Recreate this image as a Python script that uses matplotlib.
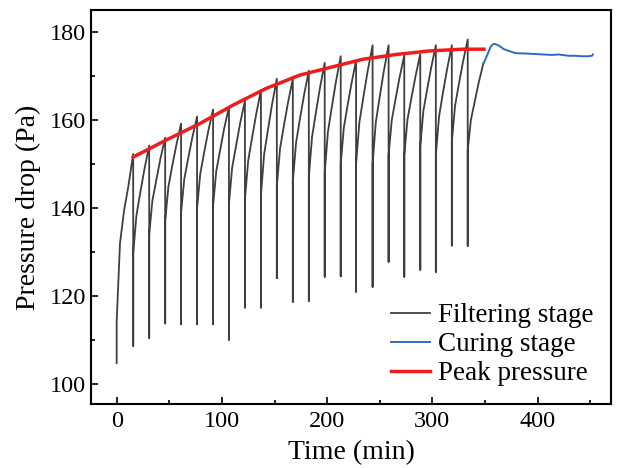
import matplotlib
matplotlib.use("Agg")
import matplotlib.pyplot as plt
from matplotlib.ticker import MultipleLocator

plt.rcParams['font.family'] = ['Liberation Serif', 'DejaVu Serif']

# ---------------- data ----------------
start_t = 0.0
start_min = 104.8
# times (min) of the pressure drops (pulse cleaning) during filtering
drop_t = [15.7, 30.9, 46.1, 61.2, 76.4, 91.6, 106.7, 121.9, 137.1, 152.2, 167.4,
          182.6, 197.7, 212.9, 227.5, 243.2, 258.4, 273.3, 288.5, 303.3, 318.5, 333.6]
filter_end_t = 348.5
# pressure right after restart of each cycle
rise_start = [114.2, 129.7, 134.0, 137.0, 139.0, 140.0, 140.5, 141.0, 142.0, 143.0, 145.0, 146.0,
              147.0, 148.0, 150.0, 150.0, 150.0, 152.0, 152.0, 154.0, 152.0, 155.0, 153.0]
rise_q1 = [132.0, 138.3, 141.7, 144.8, 146.6, 147.8, 148.4, 149.2, 150.7, 152.2, 153.5, 154.8,
           156.1, 157.3, 158.2, 159.5, 159.5, 159.9, 160.1, 162.1, 160.8, 163.2, 160.0]
rise_q2 = [139.5, 143.7, 146.5, 149.7, 151.4, 152.8, 153.3, 154.3, 156.1, 158.0, 158.9, 160.4,
           161.8, 163.1, 163.4, 165.4, 165.4, 164.9, 165.1, 167.1, 166.3, 168.3, 164.3]
rise_q3 = [144.8, 148.8, 151.2, 154.3, 156.0, 157.5, 158.1, 159.3, 161.3, 163.6, 164.0, 165.7,
           167.3, 168.7, 168.3, 171.1, 171.1, 169.7, 169.9, 171.9, 171.5, 173.2, 168.5]
# pressure at the end of each cycle (just before the drop)
cycle_peak = [152.3, 154.2, 156.0, 159.2, 160.8, 162.4, 163.0, 164.4, 166.8, 169.4, 169.4, 171.2,
              173.0, 174.5, 173.5, 177.0, 177.0, 174.7, 175.0, 177.0, 177.0, 178.3, 172.9]
# lowest pressure reached at each drop
drop_min = [108.7, 110.5, 113.8, 113.6, 113.6, 113.6, 110.1, 117.4, 117.4, 124.1, 118.7,
            118.9, 124.4, 124.5, 121.0, 122.1, 127.8, 124.4, 126.0, 125.5, 131.5, 131.4]

# curing stage
cure_t = [348.5, 349.5, 352.2, 355.4, 357.5, 359.5, 363.3, 368.0, 372.7, 379.0, 390.0, 398.0,
          405.0, 413.8, 420.0, 429.7, 436.0, 442.3, 448.0, 451.7, 452.5]
cure_p = [172.9, 173.3, 174.8, 176.7, 177.2, 177.3, 176.9, 176.1, 175.7, 175.2, 175.1, 175.0,
          174.9, 174.8, 174.9, 174.6, 174.6, 174.5, 174.5, 174.6, 174.9]

# peak pressure curve
peak_t = [15.7, 47.4, 79.0, 110.6, 142.2, 173.8, 205.3, 233.7, 265.4, 297.0, 328.5, 349.0]
peak_p = [151.6, 155.5, 159.2, 163.4, 167.2, 170.2, 172.1, 173.8, 174.9, 175.7, 176.1, 176.1]

x_ticks = [0, 100, 200, 300, 400]
y_ticks = [100, 120, 140, 160, 180]

# ---------------- build filtering path ----------------
fracs = [0.0, 0.2, 0.45, 0.7, 1.0]
starts = [start_t] + drop_t
ends = drop_t + [filter_end_t]
fx, fy = [start_t], [start_min]
for c in range(len(starts)):
    t0, t1 = starts[c], ends[c]
    vals = [rise_start[c], rise_q1[c], rise_q2[c], rise_q3[c], cycle_peak[c]]
    for f, v in zip(fracs, vals):
        fx.append(t0 + f * (t1 - t0))
        fy.append(v)
    if c < len(drop_min):
        fx.append(t1)
        fy.append(drop_min[c])

# ---------------- plot ----------------
fig = plt.figure(figsize=(6.19, 4.68), dpi=100)
ax = fig.add_axes([0.1465, 0.1368, 0.8410, 0.8418])

ax.plot(fx, fy, color='#3f3f3f', lw=1.3, label='Filtering stage', zorder=2)
ax.plot(cure_t, cure_p, color='#2f6cc0', lw=1.4, label='Curing stage', zorder=2)
ax.plot(peak_t, peak_p, color='#f01c1c', lw=2.5, label='Peak pressure', zorder=3)

ax.set_xlim(-24.7, 470)
ax.set_ylim(95.5, 185)
ax.set_xticks(x_ticks)
ax.set_yticks(y_ticks)
ax.xaxis.set_minor_locator(MultipleLocator(50))
ax.yaxis.set_minor_locator(MultipleLocator(10))
ax.tick_params(which='both', direction='in', top=False, right=False, labelsize=17.5, width=1.2)
ax.tick_params(which='major', length=5)
ax.tick_params(which='minor', length=3)
ax.tick_params(axis='x', pad=5)
for s in ax.spines.values():
    s.set_linewidth(1.5)

ax.set_xlabel('Time (min)', fontsize=20, labelpad=6)
ax.set_ylabel('Pressure drop (Pa)', fontsize=20, labelpad=6)

ax.legend(loc='lower right', frameon=False, fontsize=19.5, handlelength=1.45,
          handletextpad=0.3, labelspacing=0.15, borderaxespad=0.25)

fig.savefig('out.png', dpi=100)
